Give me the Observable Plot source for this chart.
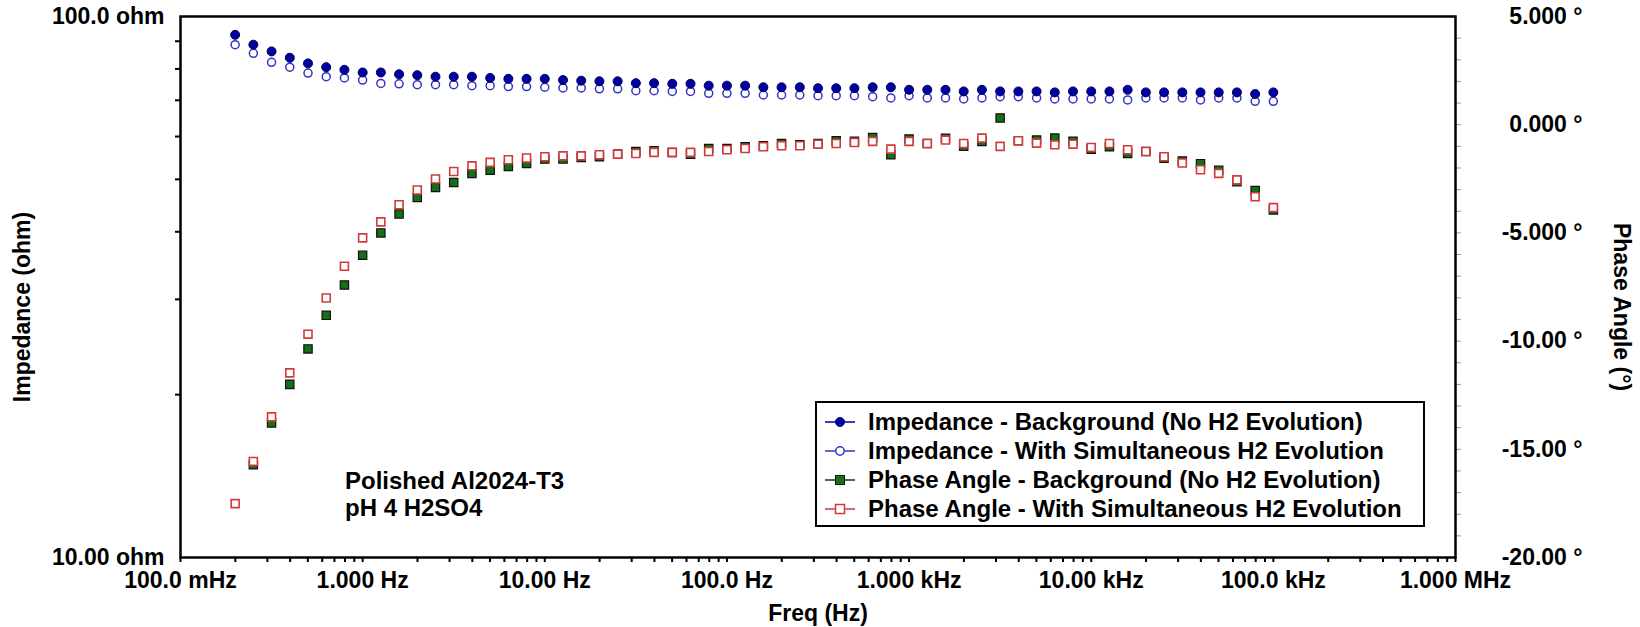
<!DOCTYPE html>
<html>
<head>
<meta charset="utf-8">
<script src="https://cdn.jsdelivr.net/npm/d3@7"></script>
<script src="https://cdn.jsdelivr.net/npm/@observablehq/plot@0.6"></script>
<style>
html, body { margin: 0; padding: 0; background: #fff; }
#wrap { position: relative; width: 1640px; height: 627px; overflow: hidden;
  font-family: "Liberation Sans", Arial, Helvetica, sans-serif; font-weight: bold; font-size: 23px; color: #000; }
#wrap > svg { position: absolute; left: 0; top: 0; }
.ann { position: absolute; white-space: nowrap; line-height: 27px; font-size: 24px; }
.ttl { position: absolute; white-space: nowrap; line-height: 23px; }
#legend { position: absolute; left: 815px; top: 401px; width: 606px; height: 118px; padding-top: 4px;
  border: 2px solid #000; background: #fff; box-sizing: content-box; font-size: 24px; }
.row { display: flex; align-items: center; height: 29px; white-space: nowrap; }
.row svg { margin-left: 8px; flex: none; }
.row span { margin-left: 13px; }
</style>
</head>
<body>
<div id="wrap"></div>
<script>
// ---- data ----
const freqs = [0.1995, 0.2512, 0.3162, 0.3981, 0.5012, 0.631, 0.7943,
  1.0, 1.259, 1.585, 1.995, 2.512, 3.162, 3.981, 5.012, 6.31, 7.943,
  10.0, 12.59, 15.85, 19.95, 25.12, 31.62, 39.81, 50.12, 63.1, 79.43,
  100.0, 125.9, 158.5, 199.5, 251.2, 316.2, 398.1, 501.2, 631.0, 794.3,
  1000, 1259, 1585, 1995, 2512, 3162, 3981, 5012, 6310, 7943,
  10000, 12589, 15849, 19953, 25119, 31623, 39811, 50119, 63096, 79433,
  100000];

const impedanceBackground = [92.5, 88.7, 86.2, 83.9, 81.9, 80.6, 79.7, 78.8, 78.8, 78.2,
  77.9, 77.4, 77.4, 77.4, 77.0, 76.7, 76.7, 76.7, 76.3, 76.1,
  75.9, 75.9, 75.3, 75.3, 75.1, 75.1, 74.5, 74.5, 74.5, 74.0,
  74.0, 74.0, 73.7, 73.7, 73.7, 74.0, 74.0, 73.2, 73.2, 73.2,
  72.7, 73.2, 72.7, 72.7, 72.7, 72.4, 72.7, 72.7, 72.7, 73.2,
  72.4, 72.4, 72.4, 72.4, 72.4, 72.4, 71.9, 72.4];

const impedanceH2 = [88.7, 85.5, 82.3, 80.6, 78.6, 77.4, 77.0, 76.3, 75.2, 75.1,
  74.8, 74.8, 74.8, 74.5, 74.5, 74.2, 74.2, 74.0, 73.8, 73.8,
  73.5, 73.5, 72.9, 72.9, 72.7, 72.7, 72.1, 72.1, 72.1, 71.6,
  71.6, 71.6, 71.4, 71.4, 71.4, 71.1, 70.7, 71.4, 70.7, 70.7,
  70.4, 70.7, 71.1, 71.1, 70.7, 70.4, 70.4, 70.4, 70.4, 70.1,
  70.7, 70.7, 70.7, 70.1, 70.7, 70.7, 69.7, 69.7];

const phaseBackground = [null, -15.71, -13.78, -12.0, -10.36, -8.81, -7.41, -6.03, -5.0, -4.13,
  -3.36, -2.90, -2.67, -2.25, -2.10, -1.93, -1.79, -1.59, -1.59, -1.51,
  -1.48, -1.36, -1.24, -1.20, -1.28, -1.36, -1.10, -1.10, -1.02, -0.97,
  -0.87, -0.93, -0.87, -0.74, -0.77, -0.59, -1.39, -0.66, -0.87, -0.63,
  -1.00, -0.77, 0.31, -0.74, -0.71, -0.62, -0.77, -1.13, -1.02, -1.33,
  -1.24, -1.55, -1.68, -1.80, -2.10, -2.64, -3.04, -3.94];

const phaseH2 = [-17.51, -15.56, -13.50, -11.47, -9.68, -8.01, -6.54, -5.23, -4.49, -3.70,
  -3.02, -2.51, -2.16, -1.90, -1.74, -1.62, -1.54, -1.48, -1.44, -1.44,
  -1.39, -1.36, -1.33, -1.28, -1.28, -1.28, -1.24, -1.16, -1.10, -1.02,
  -0.97, -0.97, -0.90, -0.87, -0.82, -0.77, -1.13, -0.77, -0.87, -0.71,
  -0.87, -0.62, -1.00, -0.74, -0.85, -0.93, -0.90, -1.05, -0.87, -1.16,
  -1.24, -1.48, -1.77, -2.08, -2.25, -2.55, -3.33, -3.83];

// ---- axes / ticks / labels ----
const xDomain = [0.1, 1e6];
const xDecades = [0.1, 1, 10, 100, 1000, 10000, 100000, 1000000];
const xTickLabels = ["100.0 mHz", "1.000 Hz", "10.00 Hz", "100.0 Hz", "1.000 kHz", "10.00 kHz", "100.0 kHz", "1.000 MHz"];
const yDomain = [10, 100];
const yLabelTicks = [10, 100];
const yTickLabels = ["10.00 ohm", "100.0 ohm"];
const yMinorTicks = [20, 30, 40, 50, 60, 70, 80, 90];
const phaseDomain = [-20, 5];
const phaseTicks = [-20, -15, -10, -5, 0, 5];
const phaseTickLabels = ["-20.00 °", "-15.00 °", "-10.00 °", "-5.000 °", "0.000 °", "5.000 °"];
const seriesNames = [
  "Impedance - Background (No H2 Evolution)",
  "Impedance - With Simultaneous H2 Evolution",
  "Phase Angle - Background (No H2 Evolution)",
  "Phase Angle - With Simultaneous H2 Evolution"
];
const colors = { impBg: "#0000a0", impH2: "#3434c8", phBg: "#157015", phH2: "#d23a3a" };

// phase (linear) mapped onto the impedance (log) y scale
const lo = Math.log10(yDomain[0]), hi = Math.log10(yDomain[1]);
const toY = p => (p == null ? NaN : Math.pow(10, lo + (p - phaseDomain[0]) / (phaseDomain[1] - phaseDomain[0]) * (hi - lo)));

const rows = freqs.map((f, i) => ({
  f, zBg: impedanceBackground[i], zH2: impedanceH2[i],
  pBg: toY(phaseBackground[i]), pH2: toY(phaseH2[i])
}));

const xMinor = [];
for (let d = 0; d < xDecades.length - 1; d++) for (let m = 1; m <= 9; m++) xMinor.push(xDecades[d] * m);
xMinor.push(xDecades[xDecades.length - 1]);
const phaseMinor = d3.range(phaseDomain[0] + 1, phaseDomain[1]).map(toY);
const phaseLabelY = phaseTicks.map(toY);

const xLabelMap = new Map(xDecades.map((d, i) => [d, xTickLabels[i]]));
const yLabelMap = new Map(yLabelTicks.map((d, i) => [d, yTickLabels[i]]));
const pLabelMap = new Map(phaseLabelY.map((d, i) => [d, phaseTickLabels[i]]));

const font = { fontSize: 23, fontWeight: "bold", fontFamily: "Liberation Sans, Arial, sans-serif" };

const chart = Plot.plot({
  width: 1640, height: 627,
  marginLeft: 180, marginRight: 185, marginTop: 16, marginBottom: 70,
  style: { fontFamily: "Liberation Sans, Arial, sans-serif", fontSize: "23px", fontWeight: "bold", color: "#000", background: "transparent" },
  x: { type: "log", domain: xDomain },
  y: { type: "log", domain: yDomain },
  marks: [
    Plot.axisX({ ticks: xMinor, tickSize: 5, tickFormat: () => "", label: null, stroke: "#000", strokeWidth: 2 }),
    Plot.axisX({ ticks: xDecades, tickSize: 0, tickPadding: 14, tickFormat: d => xLabelMap.get(d), label: null, ...font }),
    Plot.axisY({ ticks: yMinorTicks, tickSize: 5, tickFormat: () => "", label: null, stroke: "#000", strokeWidth: 2 }),
    Plot.axisY({ ticks: yLabelTicks, tickSize: 0, tickPadding: 16, tickFormat: d => yLabelMap.get(d), label: null, ...font }),
    Plot.axisY({ anchor: "right", ticks: phaseMinor, tickSize: 5, tickFormat: () => "", label: null, stroke: "#999", strokeWidth: 1 }),
    Plot.axisY({ anchor: "right", ticks: phaseLabelY, tickSize: 0, tickPadding: 127, textAnchor: "end", tickFormat: d => pLabelMap.get(d), label: null, ...font }),
    Plot.dot(rows, { x: "f", y: "zH2", r: 4, fill: "white", stroke: colors.impH2, strokeWidth: 1.5 }),
    Plot.dot(rows, { x: "f", y: "zBg", r: 4.5, fill: colors.impBg, stroke: "#00005a", strokeWidth: 1 }),
    Plot.dot(rows, { x: "f", y: "pBg", symbol: "square", r: 4.7, fill: colors.phBg, stroke: "#111", strokeWidth: 1.2 }),
    Plot.dot(rows, { x: "f", y: "pH2", symbol: "square", r: 4.5, fill: "white", stroke: colors.phH2, strokeWidth: 1.6 }),
    Plot.frame({ stroke: "#000", strokeWidth: 2.5 })
  ]
});

const wrap = document.getElementById("wrap");
wrap.appendChild(chart);

function title(text, cx, cy, rot) {
  const d = document.createElement("div");
  d.className = "ttl";
  d.textContent = text;
  d.style.left = cx + "px";
  d.style.top = cy + "px";
  d.style.transform = "translate(-50%,-50%) rotate(" + rot + "deg)";
  wrap.appendChild(d);
}
title("Impedance (ohm)", 22, 307, -90);
title("Phase Angle (°)", 1621, 307, 90);
title("Freq (Hz)", 818, 613, 0);

const ann = document.createElement("div");
ann.className = "ann";
ann.style.left = "345px";
ann.style.top = "467px";
ann.innerHTML = "Polished Al2024-T3<br>pH 4 H2SO4";
wrap.appendChild(ann);

const swatches = [
  `<line x1="0" y1="10" x2="30" y2="10" stroke="${colors.impBg}" stroke-width="1.5"/><circle cx="15" cy="10" r="4.5" fill="${colors.impBg}" stroke="#00005a"/>`,
  `<line x1="0" y1="10" x2="30" y2="10" stroke="${colors.impH2}" stroke-width="1.5"/><circle cx="15" cy="10" r="4.2" fill="#fff" stroke="${colors.impH2}" stroke-width="1.5"/>`,
  `<line x1="0" y1="10" x2="30" y2="10" stroke="#0b3a0b" stroke-width="1.5"/><rect x="10.5" y="5.5" width="9" height="9" fill="${colors.phBg}" stroke="#111"/>`,
  `<line x1="0" y1="10" x2="30" y2="10" stroke="${colors.phH2}" stroke-width="1.5"/><rect x="10.5" y="5.5" width="9" height="9" fill="#fff" stroke="${colors.phH2}" stroke-width="1.5"/>`
];
const legend = document.createElement("div");
legend.id = "legend";
legend.innerHTML = seriesNames.map((n, i) =>
  `<div class="row"><svg width="30" height="20" viewBox="0 0 30 20">${swatches[i]}</svg><span>${n}</span></div>`
).join("");
wrap.appendChild(legend);
</script>
</body>
</html>
